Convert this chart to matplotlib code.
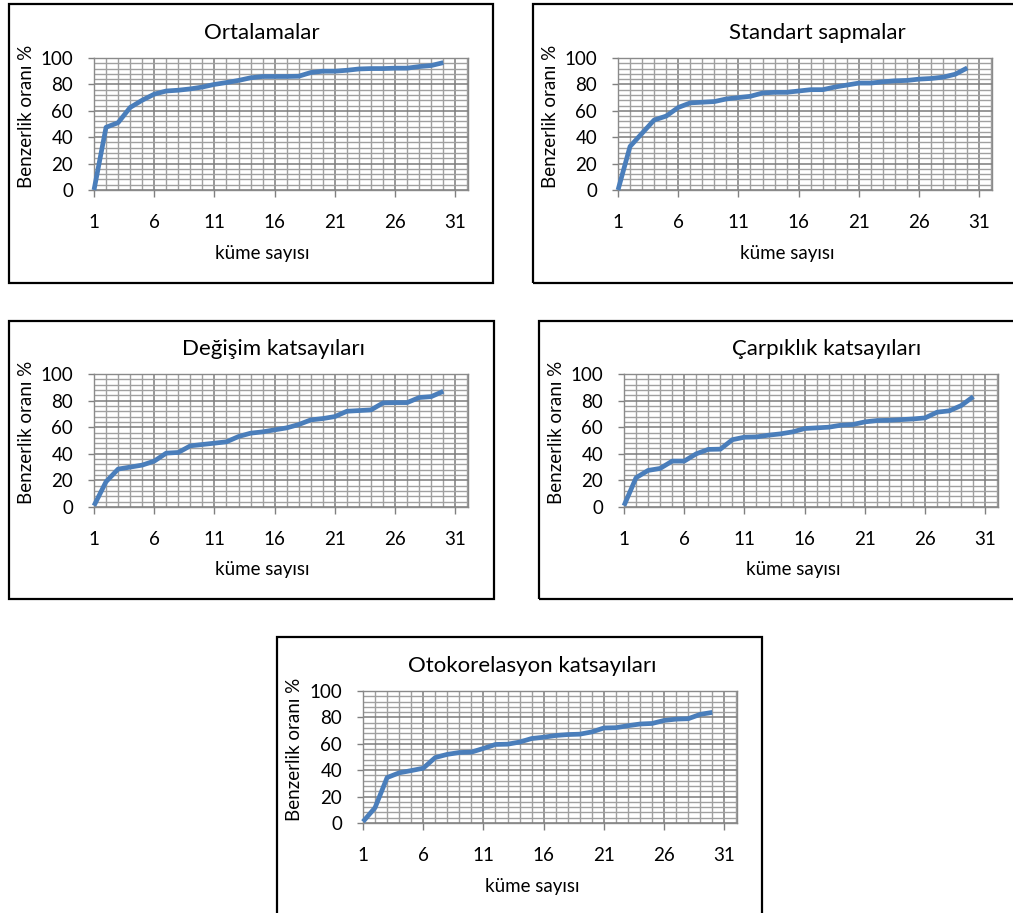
import matplotlib.pyplot as plt
from matplotlib.patches import Rectangle
from matplotlib.ticker import MultipleLocator, FixedLocator

W, H = 1013, 913

kume = list(range(1, 31))

ortalamalar = [0, 47.5, 51, 62.5, 68, 72.6, 75, 75.6, 76.6, 78,
               80, 81.4, 83, 85, 86, 86, 86, 86.2, 89, 90,
               90, 90.7, 91.7, 92, 92, 92.3, 92.3, 93.5, 94.3, 96.5]
standart = [0, 33, 43, 53, 56, 62.5, 66, 66.5, 67, 69,
            70, 71, 73.5, 74, 74, 75, 76, 76, 78, 79.5,
            81, 81, 82, 82.7, 83, 84, 84.5, 85.5, 87.7, 92.5]
degisim = [1, 19, 28.5, 30, 31.5, 34.5, 40.5, 41, 46, 47,
           48, 49, 53, 55.5, 56.5, 58, 59.5, 62, 65.5, 66.5,
           68, 72, 72.5, 73, 78.3, 78.5, 78.5, 82.3, 83, 87]
carpiklik = [1, 22, 27.5, 29, 34.5, 34.5, 40, 43.3, 43.5, 50.6,
             52.5, 52.7, 54, 55, 56.5, 59, 59.5, 60, 61.5, 62,
             64, 65, 65.2, 65.7, 66.2, 67, 71.3, 72.3, 76.3, 83]
otokorelasyon = [1, 11.6, 34.4, 38, 39.7, 41.5, 49.6, 52, 53.4, 53.7,
                 56.5, 59.5, 59.7, 61.3, 64, 65, 66.3, 67, 67.3, 69,
                 72, 72.2, 73.7, 75, 75.4, 77.7, 78.7, 79, 82.3, 83.8]

basliklar = ["Ortalamalar", "Standart sapmalar", "Değişim katsayıları",
             "Çarpıklık katsayıları", "Otokorelasyon katsayıları"]
seriler = [ortalamalar, standart, degisim, carpiklik, otokorelasyon]

# pixel layout: chart box (l, t, r, b), plot area (l, t, r, b), title x, label x
layout = [
    dict(box=(9, 4, 493, 283), plot=(94, 58, 468, 190), tx=262, yl=26, xl=262),
    dict(box=(533, 4, 1018, 283), plot=(618, 58, 992, 190), tx=817, yl=550, xl=787),
    dict(box=(9, 321, 494, 599), plot=(94, 374, 468, 507), tx=273, yl=26, xl=262),
    dict(box=(539, 321, 1018, 599), plot=(624, 374, 998, 507), tx=827, yl=556, xl=793),
    dict(box=(277, 637, 762, 925), plot=(363, 691, 737, 823), tx=532, yl=294, xl=532),
]

plt.rcParams['font.family'] = ['Lato', 'DejaVu Sans']

fig = plt.figure(figsize=(W / 100, H / 100), dpi=100)


def fx(px):
    return px / W


def fy(py):
    return 1 - py / H


for baslik, seri, lay in zip(basliklar, seriler, layout):
    bl, bt, br, bb = lay['box']
    fig.patches.append(Rectangle((fx(bl), fy(bb)), fx(br - bl), (bb - bt) / H,
                                 transform=fig.transFigure, fill=False,
                                 edgecolor='black', linewidth=1.6, zorder=0))

    pl, pt, pr, pb = lay['plot']
    ax = fig.add_axes([fx(pl), fy(pb), fx(pr - pl), (pb - pt) / H])
    ax.set_xlim(1, 32.05)
    ax.set_ylim(0, 100)

    ax.xaxis.set_major_locator(FixedLocator([1, 6, 11, 16, 21, 26, 31]))
    ax.xaxis.set_minor_locator(MultipleLocator(1))
    ax.yaxis.set_major_locator(MultipleLocator(20))
    ax.yaxis.set_minor_locator(MultipleLocator(4))

    ax.grid(which='minor', color='#a0a0a0', linewidth=1.0)
    ax.grid(which='major', color='#7c7c7c', linewidth=1.1)
    ax.set_axisbelow(True)

    for s in ax.spines.values():
        s.set_color('#8a8a8a')
        s.set_linewidth(1.0)

    ax.tick_params(which='major', axis='x', direction='out', length=5,
                   width=1, color='#808080', pad=12, labelsize=13.5)
    ax.tick_params(which='major', axis='y', direction='out', length=4.5,
                   width=1, color='#808080', pad=10.5, labelsize=13.5)
    ax.tick_params(which='minor', length=0)

    ax.plot(kume, seri, color='#4a7ebb', linewidth=3.4,
            solid_joinstyle='round', solid_capstyle='butt', zorder=3, clip_on=False)

    fig.text(fx(lay['tx']), fy(pt - 25), baslik, ha='center', va='center', fontsize=16)
    fig.text(fx(lay['yl']), fy((pt + pb) / 2 - 8), "Benzerlik oranı %", rotation=90,
             ha='center', va='center', fontsize=13.5)
    fig.text(fx(lay['xl']), fy(pb + 63), "küme sayısı", ha='center', va='center', fontsize=13.5)

fig.savefig('out.png', dpi=100)
